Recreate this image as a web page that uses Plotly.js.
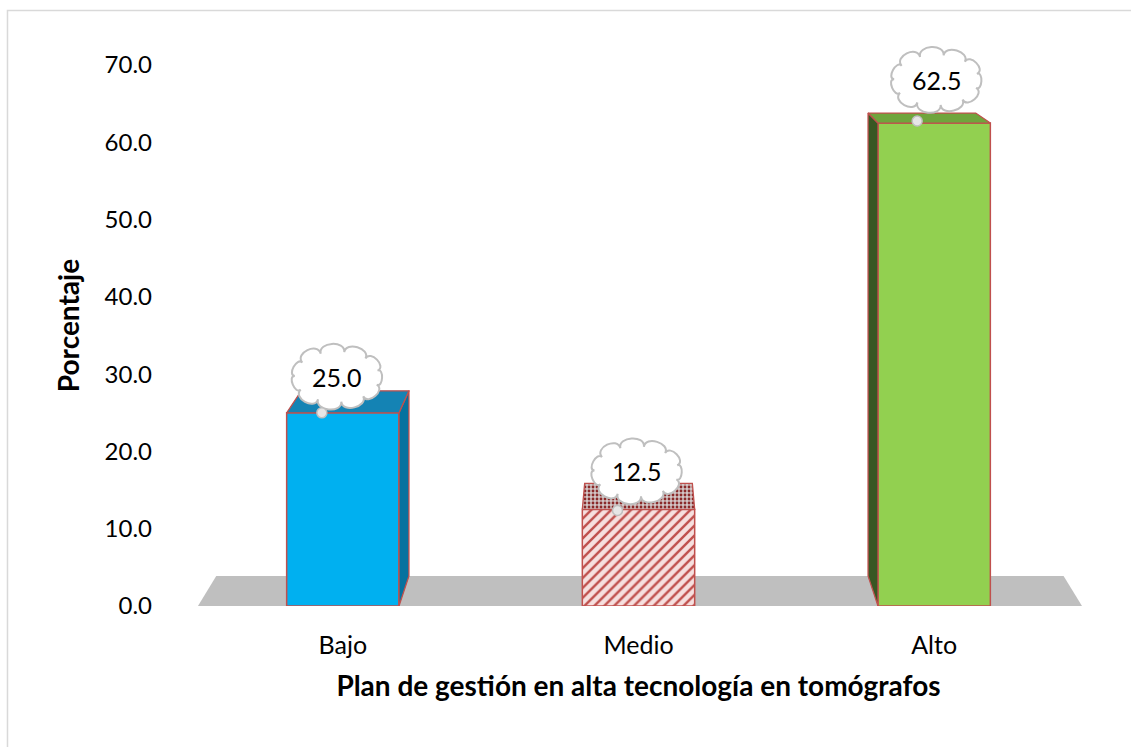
<!DOCTYPE html>
<html><head><meta charset="utf-8">
<script src="https://cdn.plot.ly/plotly-3.0.1.min.js"></script>
<style>html,body{margin:0;padding:0;background:#fff;} #chart{width:1131px;height:747px;}</style>
</head><body><div id="chart"></div>
<script>
// ---- data ----
const categories = ['Bajo', 'Medio', 'Alto'];
const values = [25.0, 12.5, 62.5];
const valueLabels = ['25.0', '12.5', '62.5'];
const yTickVals = [0, 10, 20, 30, 40, 50, 60, 70];
const yTickText = ['0.0', '10.0', '20.0', '30.0', '40.0', '50.0', '60.0', '70.0'];
const xTitle = 'Plan de gestión en alta tecnología en tomógrafos';
const yTitle = 'Porcentaje';

// ---- style ----
const FONT = 'Lato, "Open Sans", sans-serif';
const EDGE = '#c0504d';
const frontColors = ['#00b0f0', '#f6e0df', '#92d050'];
const hatchColors = ['rgba(0,0,0,0)', '#c0504d', 'rgba(0,0,0,0)'];
const hatchShapes = ['', '/', ''];
const topColors = ['#1483b4', '#b9a3a3', '#6fa53c'];
const sideColors = ['#06729f', null, '#385723'];
const BAR_W = 0.38;
// simple perspective: vanishing point (data units) and depth fraction
const VPX = 1, VPY = 93.6, T = 0.0415;
const FLOOR_X = [-0.49, 2.5];
// cloud callout offsets (pixels, y up) relative to bar top
const cloudOff = [[-6, 36], [-2, 38], [2, 43]];
const tailOff = [[-21, 0], [-21, -1], [-17, 2]];

const xs = categories.map((c, i) => i);
function back(x, y) { return [x + T * (VPX - x), y + T * (VPY - y)]; }

const traces = [];
// solid front faces
traces.push({
  type: 'bar', x: xs, y: values, width: BAR_W,
  marker: {color: frontColors, line: {color: EDGE, width: 1.5}},
  hoverinfo: 'skip', showlegend: false
});
// hatch overlay (Medio)
traces.push({
  type: 'bar', x: xs, y: values, width: BAR_W,
  marker: {color: hatchColors, line: {width: 0},
           pattern: {shape: hatchShapes, size: 7, solidity: 0.35, fillmode: 'replace'}},
  hoverinfo: 'skip', showlegend: false
});

xs.forEach((c, i) => {
  const v = values[i], h = BAR_W / 2;
  const L = c - h, R = c + h;
  const bl = back(L, v), br = back(R, v);
  const top = {
    type: 'scatter', mode: 'lines', fill: 'toself',
    x: [L, R, br[0], bl[0], L], y: [v, v, br[1], bl[1], v],
    line: {color: EDGE, width: 1.3}, fillcolor: topColors[i],
    hoverinfo: 'skip', showlegend: false
  };
  if (i === 1) top.fillpattern = {shape: '.', fgcolor: '#8a2a2a', bgcolor: '#d2c6c6', size: 4, solidity: 0.4};
  if (sideColors[i]) {
    const sx = c < VPX ? R : L;
    const b0 = back(sx, 0), b1 = back(sx, v);
    traces.push({
      type: 'scatter', mode: 'lines', fill: 'toself',
      x: [sx, sx, b1[0], b0[0], sx], y: [0, v, b1[1], b0[1], 0],
      line: {color: EDGE, width: 1.3}, fillcolor: sideColors[i],
      hoverinfo: 'skip', showlegend: false
    });
  }
  traces.push(top);
});

function f(n) { return n.toFixed(2); }
function cloudPath(cx, cy, rx, ry, n, bump, phase) {
  const pts = [];
  for (let k = 0; k < n; k++) {
    const a = 2 * Math.PI * k / n + phase;
    const ca = Math.cos(a), sa = Math.sin(a);
    let nx = ca * ry, ny = sa * rx; const len = Math.hypot(nx, ny); nx /= len; ny /= len;
    pts.push([cx + rx * ca, cy + ry * sa, nx, ny]);
  }
  let p = 'M' + f(pts[0][0]) + ',' + f(pts[0][1]);
  for (let k = 0; k < n; k++) {
    const a = pts[k], b = pts[(k + 1) % n];
    const chord = Math.hypot(b[0] - a[0], b[1] - a[1]);
    const bb = bump * chord * (k % 3 === 0 ? 1.1 : 0.95);
    p += ' C' + f(a[0] + a[2] * bb) + ',' + f(a[1] + a[3] * bb) + ' ' +
         f(b[0] + b[2] * bb) + ',' + f(b[1] + b[3] * bb) + ' ' + f(b[0]) + ',' + f(b[1]);
  }
  return p + ' Z';
}

const shapes = [];
shapes.push({type: 'rect', xref: 'paper', yref: 'paper', x0: -0.2114, x1: 1.07, y0: -0.26, y1: 1.0615,
  line: {color: '#d9d9d9', width: 1.5}, fillcolor: 'rgba(0,0,0,0)', layer: 'below'});
const fb0 = back(FLOOR_X[0], 0), fb1 = back(FLOOR_X[1], 0);
shapes.push({type: 'path', xref: 'x', yref: 'y', layer: 'below',
  path: `M${FLOOR_X[0]},0 L${FLOOR_X[1]},0 L${fb1[0]},${fb1[1]} L${fb0[0]},${fb0[1]} Z`,
  fillcolor: '#bfbfbf', line: {width: 0}});

const annotations = [];
xs.forEach((c, i) => {
  const [ox, oy] = cloudOff[i];
  shapes.push({type: 'path', xref: 'x', yref: 'y', xsizemode: 'pixel', ysizemode: 'pixel',
    xanchor: c, yanchor: values[i],
    path: cloudPath(ox, oy, 42, 25, 11, 0.55, 0.25),
    fillcolor: '#ffffff', line: {color: '#bfbfbf', width: 2}});
  const [tx, ty] = tailOff[i];
  shapes.push({type: 'circle', xref: 'x', yref: 'y', xsizemode: 'pixel', ysizemode: 'pixel',
    xanchor: c, yanchor: values[i], x0: tx - 5, x1: tx + 5, y0: ty - 5, y1: ty + 5,
    fillcolor: '#e6e6e6', line: {color: '#bfbfbf', width: 1.5}});
  annotations.push({x: c, y: values[i], xref: 'x', yref: 'y', text: valueLabels[i], showarrow: false,
    xshift: ox, yshift: oy, font: {family: FONT, size: 25, color: '#000'}});
});

const layout = {
  width: 1131, height: 747,
  margin: {l: 195, r: 49, t: 45, b: 141},
  paper_bgcolor: '#ffffff', plot_bgcolor: 'rgba(0,0,0,0)',
  showlegend: false, barmode: 'overlay',
  font: {family: FONT, color: '#000', size: 24},
  xaxis: {
    range: [-0.5, 2.5], tickvals: xs, ticktext: categories,
    showgrid: false, zeroline: false, showline: false, ticks: '',
    ticklabelstandoff: 22, tickfont: {family: FONT, size: 25, color: '#000'},
    title: {text: xTitle, font: {family: FONT, size: 28, color: '#000', weight: 'bold'}, standoff: 18},
    fixedrange: true
  },
  yaxis: {
    range: [0, 72.6], tickvals: yTickVals, ticktext: yTickText,
    showgrid: false, zeroline: false, showline: false, ticks: '',
    ticklabelstandoff: 42, tickfont: {family: FONT, size: 24, color: '#000'},
    title: {text: yTitle, font: {family: FONT, size: 28, color: '#000', weight: 'bold'}, standoff: 16},
    fixedrange: true
  },
  shapes: shapes,
  annotations: annotations
};

Plotly.newPlot('chart', traces, layout, {displayModeBar: false, staticPlot: true});
</script>
</body></html>
